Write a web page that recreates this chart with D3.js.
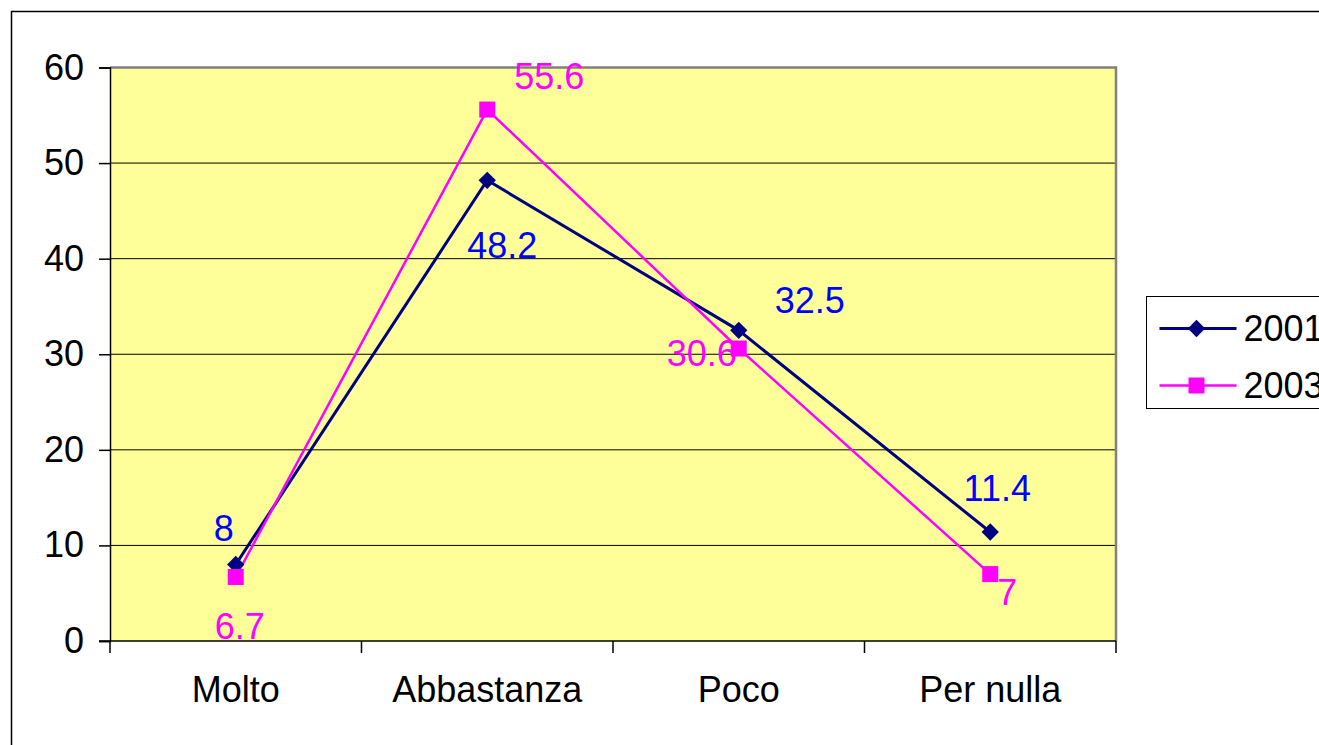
<!DOCTYPE html>
<html>
<head>
<meta charset="utf-8">
<script src="https://cdn.jsdelivr.net/npm/d3@7"></script>
<style>
  html, body { margin: 0; padding: 0; background: #fff; overflow: hidden; }
  svg { display: block; font-family: "Liberation Sans", Arial, sans-serif; }
</style>
</head>
<body>
<svg id="chart" width="1319" height="745"></svg>
<script>
// Survey answers by category, two survey years
const categories = ["Molto", "Abbastanza", "Poco", "Per nulla"];
const values2001 = [8, 48.2, 32.5, 11.4];
const values2003 = [6.7, 55.6, 30.6, 7];
const seriesNames = ["2001", "2003"];
const yTicks = [0, 10, 20, 30, 40, 50, 60];

// Label offsets (dx, dy from the point) per series
const labelPos2001 = [[-12, -36], [15, 65], [71, -30], [7, -44]];
const labelPos2003 = [[4, 50], [62, -33], [-37, 5], [17, 18]];

const svg = d3.select("#chart");
const plot = { left: 110, right: 1116, top: 67.5, bottom: 641 };
const fontSize = 36;

// Outer chart frame (continues past the right and bottom edges)
svg.append("rect")
  .attr("x", 11.5).attr("y", 11.5)
  .attr("width", 1400).attr("height", 800)
  .attr("fill", "#fff").attr("stroke", "#000").attr("stroke-width", 1.5);

const x = d3.scaleBand().domain(categories).range([plot.left, plot.right]);
const y = d3.scaleLinear().domain([0, 60]).range([plot.bottom, plot.top]);

// Plot area
svg.append("rect")
  .attr("x", plot.left).attr("y", plot.top)
  .attr("width", plot.right - plot.left).attr("height", plot.bottom - plot.top)
  .attr("fill", "#FFFF99");

// Gridlines
svg.append("g").selectAll("line").data(yTicks.filter(d => d > 0 && d < 60)).join("line")
  .attr("x1", plot.left).attr("x2", plot.right)
  .attr("y1", d => y(d)).attr("y2", d => y(d))
  .attr("stroke", "#000").attr("stroke-width", 1);

// Grey border on top and right of the plot area
svg.append("path")
  .attr("d", `M${plot.left},${plot.top}H${plot.right}V${plot.bottom}`)
  .attr("fill", "none").attr("stroke", "#808080").attr("stroke-width", 2.5);

// Y axis
const yAxis = d3.axisLeft(y).tickValues(yTicks).tickSize(11).tickPadding(15);
const gy = svg.append("g").attr("transform", `translate(${plot.left},0)`).call(yAxis);
gy.select(".domain").attr("stroke", "#000").attr("stroke-width", 1.5);
gy.selectAll(".tick line").attr("stroke", "#000").attr("stroke-width", 1.5);
gy.selectAll(".tick text").attr("font-size", fontSize).attr("fill", "#000")
  .attr("font-family", "Liberation Sans, Arial, sans-serif");

// X axis with tick marks between categories
const gx = svg.append("g").attr("transform", `translate(0,${plot.bottom})`);
gx.append("line").attr("x1", plot.left - 11).attr("x2", plot.right)
  .attr("stroke", "#000").attr("stroke-width", 1.5);
const bounds = categories.map(c => x(c)).concat([x(categories[categories.length - 1]) + x.bandwidth()]);
gx.selectAll(".xt").data(bounds).join("line").attr("class", "xt")
  .attr("x1", d => d).attr("x2", d => d).attr("y1", 0).attr("y2", 12)
  .attr("stroke", "#000").attr("stroke-width", 1.5);
gx.selectAll(".xl").data(categories).join("text").attr("class", "xl")
  .attr("x", d => x(d) + x.bandwidth() / 2).attr("y", 61)
  .attr("text-anchor", "middle").attr("font-size", fontSize).attr("fill", "#000")
  .text(d => d);

const cx = d => x(d) + x.bandwidth() / 2;
const line = d3.line().x(d => cx(d.c)).y(d => y(d.v));

const s2001 = categories.map((c, i) => ({ c, v: values2001[i] }));
const s2003 = categories.map((c, i) => ({ c, v: values2003[i] }));

// 2001 series: navy line with diamonds
svg.append("path").datum(s2001).attr("d", line)
  .attr("fill", "none").attr("stroke", "#000080").attr("stroke-width", 3);
// 2003 series: magenta line with squares
svg.append("path").datum(s2003).attr("d", line)
  .attr("fill", "none").attr("stroke", "#FF00FF").attr("stroke-width", 2.5);

const diamond = d3.symbol().type(d3.symbolSquare).size(150);
svg.append("g").selectAll("path").data(s2001).join("path")
  .attr("d", diamond)
  .attr("transform", d => `translate(${cx(d.c)},${y(d.v)}) rotate(45)`)
  .attr("fill", "#000080");
svg.append("g").selectAll("rect").data(s2003).join("rect")
  .attr("x", d => cx(d.c) - 8).attr("y", d => y(d.v) - 8)
  .attr("width", 16).attr("height", 16)
  .attr("fill", "#FF00FF");

// Data labels
svg.append("g").selectAll("text").data(s2001).join("text")
  .attr("x", (d, i) => cx(d.c) + labelPos2001[i][0])
  .attr("y", (d, i) => y(d.v) + labelPos2001[i][1])
  .attr("text-anchor", "middle")
  .attr("dominant-baseline", "central")
  .attr("font-size", fontSize).attr("fill", "#0000FF")
  .text(d => d.v);
svg.append("g").selectAll("text").data(s2003).join("text")
  .attr("x", (d, i) => cx(d.c) + labelPos2003[i][0])
  .attr("y", (d, i) => y(d.v) + labelPos2003[i][1])
  .attr("text-anchor", "middle")
  .attr("dominant-baseline", "central")
  .attr("font-size", fontSize).attr("fill", "#FF00FF")
  .text(d => d.v);

// Legend
const legend = svg.append("g").attr("transform", "translate(1146.5,296.5)");
legend.append("rect").attr("width", 300).attr("height", 112)
  .attr("fill", "#fff").attr("stroke", "#000").attr("stroke-width", 1);
const legendColors = ["#000080", "#FF00FF"];
seriesNames.forEach((name, i) => {
  const ly = 32 + i * 57;
  const row = legend.append("g").attr("transform", `translate(0,${ly})`);
  row.append("line").attr("x1", 13).attr("x2", 90).attr("y1", 0).attr("y2", 0)
    .attr("stroke", legendColors[i]).attr("stroke-width", i === 0 ? 3 : 2.5);
  if (i === 0) {
    row.append("path").attr("d", diamond).attr("transform", "translate(50,0) rotate(45)")
      .attr("fill", legendColors[i]);
  } else {
    row.append("rect").attr("x", 42).attr("y", -8).attr("width", 16).attr("height", 16)
      .attr("fill", legendColors[i]);
  }
  row.append("text").attr("x", 97).attr("y", 0).attr("dominant-baseline", "central")
    .attr("font-size", fontSize).attr("fill", "#000").text(name);
});
</script>
</body>
</html>
